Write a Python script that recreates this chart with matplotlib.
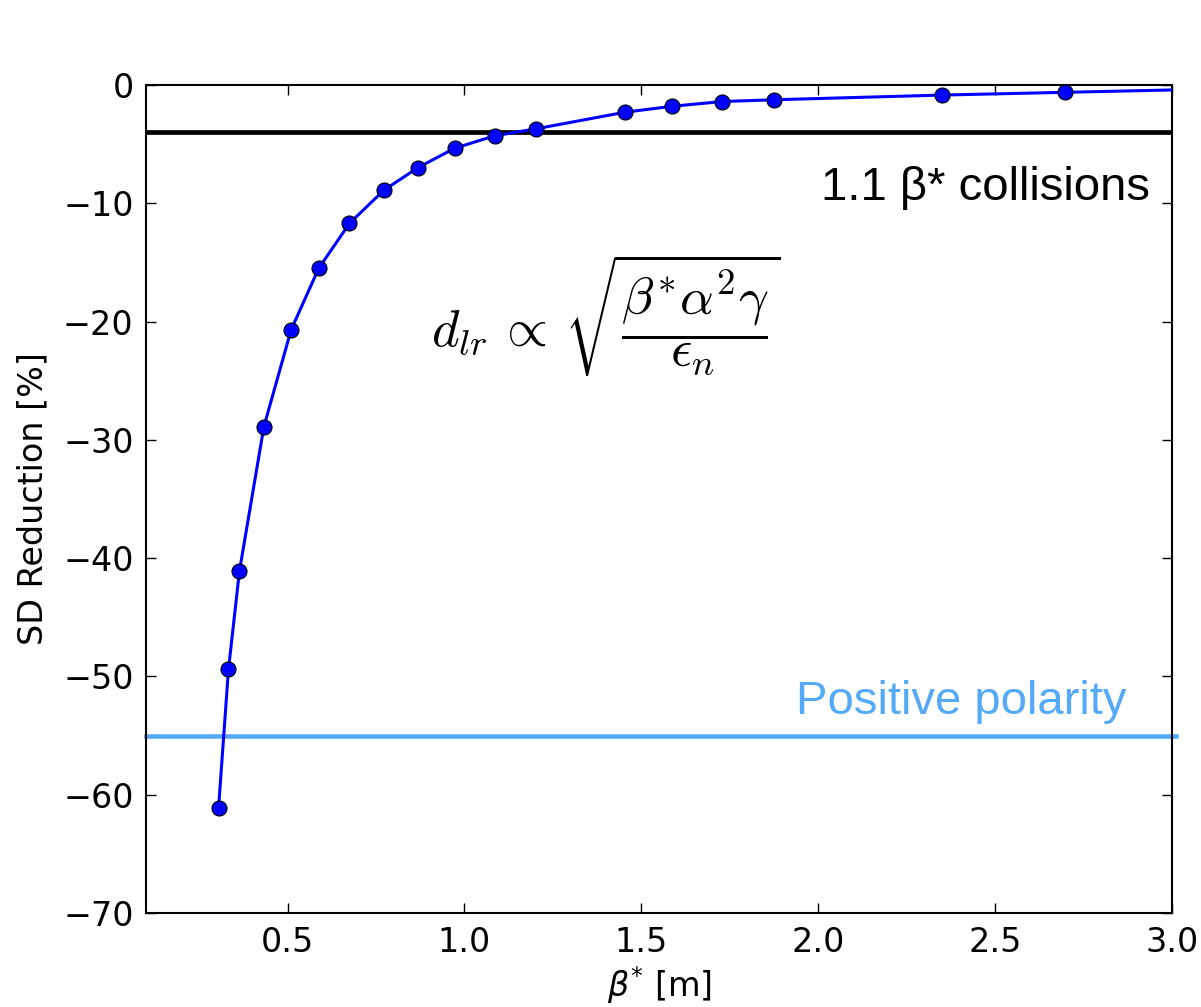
import matplotlib
matplotlib.use("Agg")
import matplotlib.pyplot as plt

# Separation-dependent reduction vs. beta* (markers = computed points)
beta_star = [0.305, 0.333, 0.364, 0.433, 0.510, 0.588, 0.675, 0.772, 0.868,
             0.972, 1.085, 1.203, 1.454, 1.587, 1.728, 1.874, 2.351, 2.698]
sd_reduction = [-61.1, -49.4, -41.1, -28.9, -20.7, -15.5, -11.7, -8.9, -7.0,
                 -5.35, -4.3, -3.7, -2.3, -1.8, -1.4, -1.25, -0.85, -0.62]
# the connecting curve carries on to the edge of the plot
tail_beta = [3.0]
tail_reduction = [-0.42]

collision_level = -4.0
polarity_level = -55.0

x_ticks = [0.5, 1.0, 1.5, 2.0, 2.5, 3.0]
y_ticks = [0, -10, -20, -30, -40, -50, -60, -70]

LIGHT_BLUE = "#55aaf8"

fig = plt.figure(figsize=(12.01, 10.07), dpi=100)
ax = fig.add_axes([0.1216, 0.0933, 0.8543, 0.8223])

ax.plot(beta_star + tail_beta, sd_reduction + tail_reduction,
        color="#0000ff", lw=2.2, zorder=3)
ax.plot(beta_star, sd_reduction, ls="none", marker="o", ms=10.8,
        mfc="#0000ff", mec="black", mew=0.8, zorder=4)

ax.axhline(collision_level, color="black", lw=3.4, zorder=2)
ax.axhline(polarity_level, xmin=0, xmax=1.004, color=LIGHT_BLUE, lw=3.3,
           clip_on=False, zorder=2)

ax.text(2.937, -9.7, "1.1 β* collisions", ha="right", va="baseline",
        fontsize=34, family="Liberation Sans", color="black")
ax.text(1.937, -53.2, "Positive polarity", ha="left", va="baseline",
        fontsize=34, family="Liberation Sans", color=LIGHT_BLUE)

ax.text(1.40, -19.5,
        r"$d_{lr}\,\propto\,\sqrt{\dfrac{\beta^{*}\alpha^{2}\gamma}{\epsilon_{n}}}$",
        ha="center", va="center", fontsize=38, math_fontfamily="cm")

ax.set_xlim(0.1, 3.0)
ax.set_ylim(-70, 0)
ax.set_xticks(x_ticks)
ax.set_yticks(y_ticks)
ax.tick_params(direction="in", top=True, right=True, length=7, width=1,
               labelsize=24, pad=9)
for sp in ax.spines.values():
    sp.set_linewidth(1.5)

ax.set_xlabel(r"$\beta^{*}$ [m]", fontsize=24, labelpad=4)
ax.set_ylabel("SD Reduction [%]", fontsize=24, labelpad=10)

fig.savefig("out.png", dpi=100)
